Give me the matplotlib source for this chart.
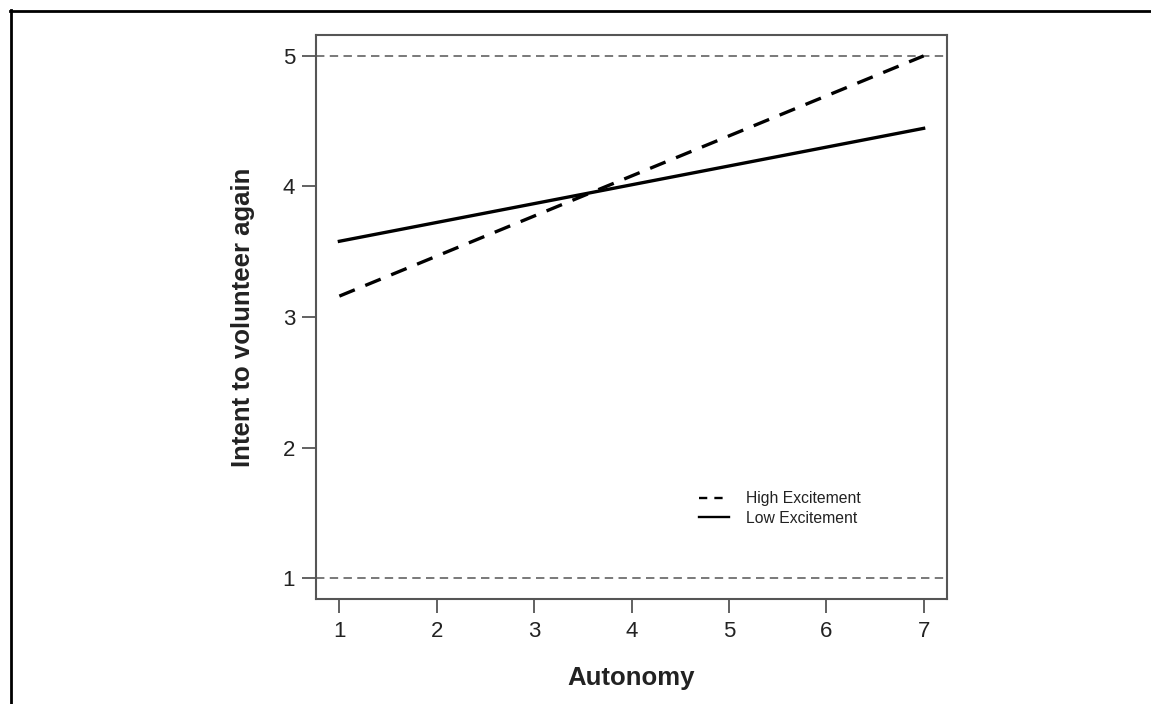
import numpy as np
import matplotlib
matplotlib.use("Agg")
import matplotlib.pyplot as plt
from matplotlib.lines import Line2D

plt.rcParams['font.family'] = ['Liberation Sans', 'DejaVu Sans']

# data: simple slopes, autonomy 1 -> 7
autonomy = [1, 7]
high_excitement = [3.16, 5.00]
low_excitement = [3.58, 4.445]
ref_levels = [1, 5]
x_ticks = [1, 2, 3, 4, 5, 6, 7]
y_ticks = [1, 2, 3, 4, 5]


def main():
    fig = plt.figure(figsize=(11.51, 7.04), dpi=100)
    ax = fig.add_axes([316 / 1151, 1 - 599 / 704, (947 - 316) / 1151, (599 - 35) / 704])

    spine_col = "#555555"
    for lvl in ref_levels:
        ax.axhline(lvl, color="#555555", lw=1.1, ls=(0, (5.5, 3.5)), zorder=1)

    ax.plot(autonomy, high_excitement, color="black", lw=2.4, ls=(0, (5, 3.4)),
            label="High Excitement", zorder=3)
    ax.plot(autonomy, low_excitement, color="black", lw=2.4, ls="-",
            label="Low Excitement", zorder=3)

    ax.set_xlim(0.76, 7.24)
    ax.set_ylim(0.84, 5.16)
    ax.set_xticks(x_ticks)
    ax.set_yticks(y_ticks)
    ax.tick_params(axis="both", length=10, width=1.3, color=spine_col,
                   labelsize=16, labelcolor="#222222", direction="out")
    ax.tick_params(axis="x", pad=6)
    ax.tick_params(axis="y", pad=5)
    for s in ax.spines.values():
        s.set_color(spine_col)
        s.set_linewidth(1.5)

    ax.set_xlabel("Autonomy", fontsize=18.5, fontweight="bold", color="#222222", labelpad=17)
    ax.set_ylabel("Intent to volunteer again", fontsize=18.5, fontweight="bold",
                  color="#222222", labelpad=20)

    handles = [Line2D([], [], color="black", lw=1.7, ls=(0, (3.5, 3))),
               Line2D([], [], color="black", lw=1.7, ls="-")]
    ax.legend(handles, ["High Excitement", "Low Excitement"], loc="upper left",
              bbox_to_anchor=((693 - 316) / 631, 1 - (485 - 35) / 564),
              frameon=False, fontsize=11.3, handlelength=1.9, handletextpad=1.1,
              labelspacing=0.3, borderaxespad=0, labelcolor="#222222")

    # outer frame (top and left edges of the figure panel)
    fig.add_artist(Line2D([10 / 1151, 1.0], [1 - 10.5 / 704, 1 - 10.5 / 704],
                          transform=fig.transFigure, color="black", lw=2))
    fig.add_artist(Line2D([10.5 / 1151, 10.5 / 1151], [0.0, 1 - 10 / 704],
                          transform=fig.transFigure, color="black", lw=2))

    fig.savefig("out.png", dpi=100)
    plt.close(fig)


if __name__ == "__main__":
    main()
